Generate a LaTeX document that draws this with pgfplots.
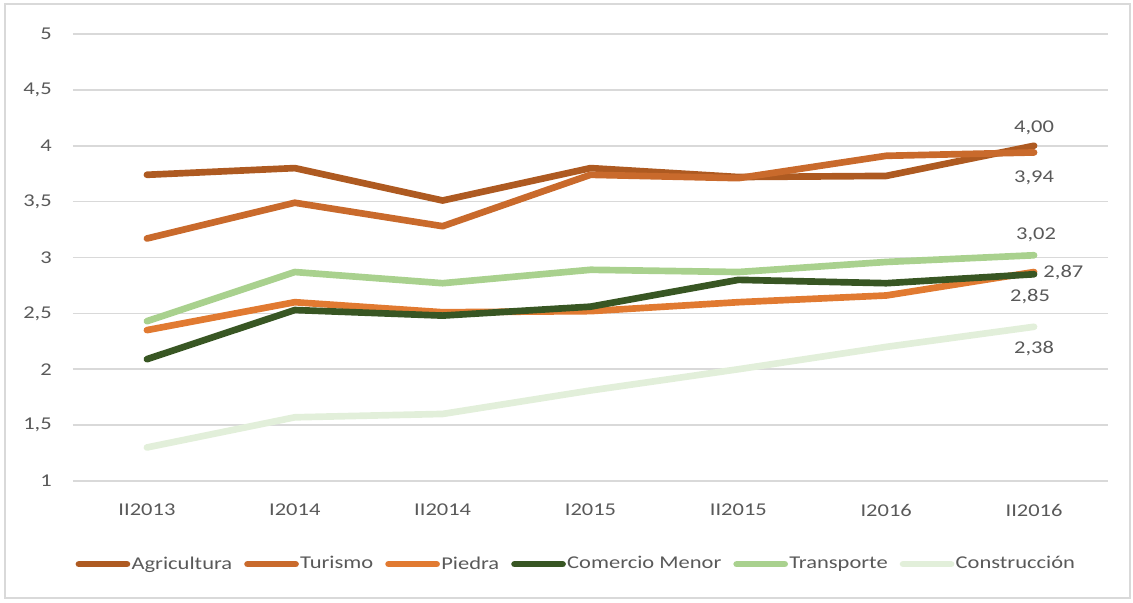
\documentclass[border=0pt]{standalone}
\usepackage{pgfplots}
\pgfplotsset{compat=1.18}
\usepackage{fontspec}
\setmainfont{Carlito}[FakeStretch=1.25]
\definecolor{cAgr}{HTML}{AE5A21}
\definecolor{cTur}{HTML}{C96A2C}
\definecolor{cPie}{HTML}{E17A31}
\definecolor{cCom}{HTML}{385623}
\definecolor{cTra}{HTML}{A9D18E}
\definecolor{cCon}{HTML}{E2EFDA}
\definecolor{gridgray}{HTML}{D9D9D9}
\definecolor{textgray}{HTML}{595959}
\begin{document}
\fontsize{13.5pt}{16pt}\selectfont
\begin{tikzpicture}[x=1pt,y=1pt]
\path[use as bounding box] (-54.75,-91.5) rectangle (795,360.75);
\draw[gridgray, line width=1.2pt] (-51,-87.75) rectangle (792.75,357.75);
\begin{axis}[
  at={(0,0)}, anchor=south west, scale only axis,
  width=776.25pt, height=335.25pt,
  xmin=-0.5, xmax=6.5, ymin=1, ymax=5,
  ytick={1,1.5,2,2.5,3,3.5,4,4.5,5},
  xtick={0,1,2,3,4,5,6},
  xticklabels={II2013,I2014,II2014,I2015,II2015,I2016,II2016},
  axis line style={draw=none}, major tick length=0pt,
  ymajorgrids, grid style={gridgray, line width=1.2pt},
  /pgf/number format/assume math mode=true,
  /pgf/number format/use comma,
  ticklabel style={text=textgray, inner sep=0pt, font=\fontsize{13.5pt}{16pt}\selectfont},
  xticklabel style={anchor=center, yshift=-21.75pt},
  yticklabel style={anchor=east, xshift=-15.75pt},
  clip=false,
  every axis plot/.append style={line width=5pt, line cap=round, line join=round, no markers},
  legend columns=6,
  legend style={at={(0.486,-0.186)}, anchor=center, draw=none, fill=none,
    text=textgray, font=\fontsize{13.5pt}{16pt}\selectfont,
    /tikz/every even column/.append style={column sep=8pt},
    nodes={inner xsep=1pt}},
  legend image code/.code={\draw[#1] (2.5pt,0pt) -- (38.5pt,0pt);},
]
\addplot[cAgr] coordinates {(0,3.74) (1,3.80) (2,3.51) (3,3.80) (4,3.72) (5,3.73) (6,4.00)};
\addlegendentry{Agricultura}
\addplot[cTur] coordinates {(0,3.17) (1,3.49) (2,3.28) (3,3.74) (4,3.71) (5,3.91) (6,3.94)};
\addlegendentry{Turismo}
\addplot[cPie] coordinates {(0,2.35) (1,2.60) (2,2.51) (3,2.52) (4,2.60) (5,2.66) (6,2.87)};
\addlegendentry{Piedra}
\addplot[cCom] coordinates {(0,2.09) (1,2.53) (2,2.48) (3,2.56) (4,2.80) (5,2.77) (6,2.85)};
\addlegendentry{Comercio Menor}
\addplot[cTra] coordinates {(0,2.43) (1,2.87) (2,2.77) (3,2.89) (4,2.87) (5,2.96) (6,3.02)};
\addlegendentry{Transporte}
\addplot[cCon] coordinates {(0,1.30) (1,1.57) (2,1.60) (3,1.81) (4,2.00) (5,2.20) (6,2.38)};
\addlegendentry{Construcción}
\begin{scope}[every node/.style={text=textgray, font=\fontsize{13.5pt}{16pt}\selectfont, anchor=center}]
\node[yshift=13.5pt] at (axis cs:6,4.00) {4,00};
\node[yshift=-18.75pt] at (axis cs:6,3.94) {3,94};
\node[yshift=15pt, xshift=1.5pt] at (axis cs:6,3.02) {3,02};
\node[xshift=22pt] at (axis cs:6,2.87) {2,87};
\node[yshift=-16.5pt, xshift=-3pt] at (axis cs:6,2.85) {2,85};
\node[yshift=-16.5pt] at (axis cs:6,2.38) {2,38};
\end{scope}
\end{axis}
\end{tikzpicture}
\end{document}
